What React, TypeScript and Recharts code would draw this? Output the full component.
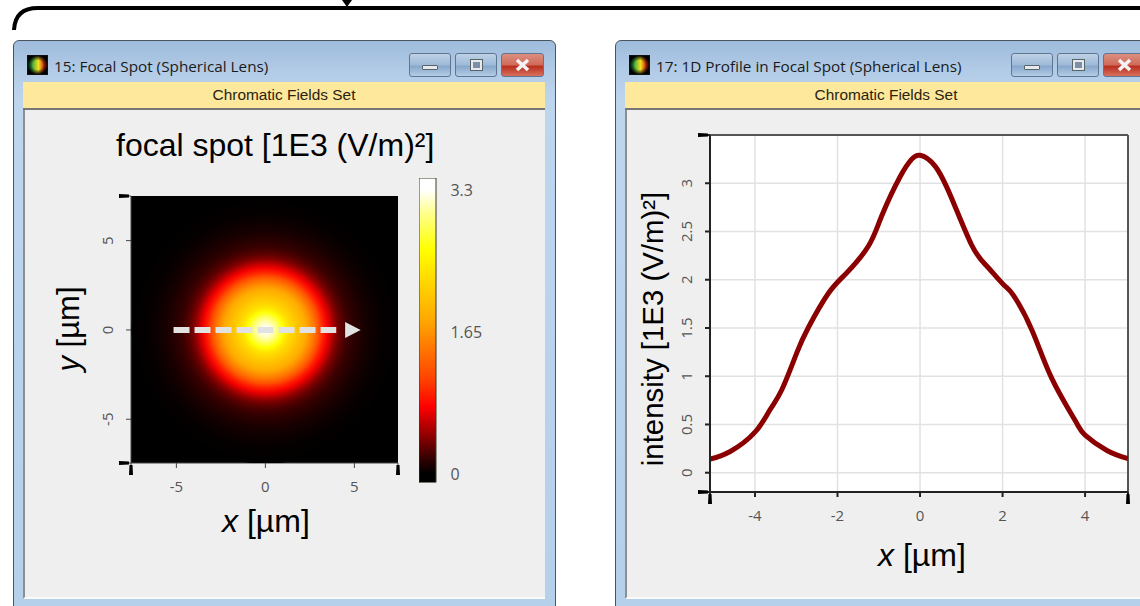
import { Bar, BarChart, CartesianGrid, Line, LineChart, ReferenceLine, Scatter, ScatterChart, XAxis, YAxis } from "recharts";

// 1D profile through the focal spot
const profileX = [-5.09, -4.6, -4, -3.64, -3.35, -2.99, -2.7, -2.22, -1.78, -1.25, -0.93, -0.48, -0.2, 0, 0.36, 0.76, 1.25, 1.6, 2.02, 2.26, 2.71, 3.19, 3.76, 4, 4.53, 5.04];
const profileY = [0.14, 0.22, 0.42, 0.65, 0.86, 1.24, 1.51, 1.86, 2.07, 2.35, 2.66, 3.07, 3.25, 3.29, 3.18, 2.85, 2.36, 2.15, 1.95, 1.84, 1.48, 0.98, 0.54, 0.39, 0.23, 0.146];

// radial intensity of the spot in the left window
const spotRadius = [0, 0.25, 0.5, 0.75, 1, 1.25, 1.5, 1.75, 2, 2.25, 2.5, 2.75, 3, 3.25, 3.5, 3.75, 4, 4.25, 4.5, 4.75, 5, 5.5, 6, 6.5, 7.5];
const spotValue = [3.29, 3.24, 3.09, 2.87, 2.62, 2.36, 2.2, 2.08, 1.95, 1.84, 1.65, 1.44, 1.2, 0.93, 0.74, 0.56, 0.4, 0.3, 0.23, 0.18, 0.15, 0.09, 0.05, 0.02, 0];

const heatValues = [0, 0.15, 0.43, 0.78, 1.09, 1.79, 2.61, 3.04, 3.3];
const heatColors = ["#000000", "#2a0000", "#8a0000", "#ff0000", "#ff4000", "#ffa800", "#ffff00", "#ffff90", "#ffffff"];

const spotXTicks = [-7.55, -5, 0, 5, 7.45];
const spotYTicks = [-7.45, -5, 0, 5, 7.5];
const barTicks = [0, 1.65, 3.3];
const barRange = [-0.1, 3.44];
const lineXTicks = [-5.09, -4, -2, 0, 2, 4, 5.04];
const lineYTicks = [-0.2, 0, 0.5, 1, 1.5, 2, 2.5, 3, 3.5];
const lineXGrid = [-4, -2, 0, 2, 4];
const lineYGrid = [0, 0.5, 1, 1.5, 2, 2.5, 3];

const spotPoint = [{ x: 0, y: 0 }];
const arrowHead = [{ x: 4.48, y: 0 }];
const arrowShaft = [{ x: -5.16, y: 0 }, { x: 3.98, y: 0 }];

const tickFont = "'Open Sans', sans-serif";
const bigFont = "'Liberation Sans', Arial, sans-serif";
const tickColor = "#555";
const spotPxPerUnit = 17.84;

const hex = (c: string) => [1, 3, 5].map((i) => parseInt(c.slice(i, i + 2), 16));

const heatColor = (v: number) => {
  let i = 0;
  while (i < heatValues.length - 2 && v > heatValues[i + 1]) i++;
  const t = Math.min(1, Math.max(0, (v - heatValues[i]) / (heatValues[i + 1] - heatValues[i])));
  const a = hex(heatColors[i]);
  const b = hex(heatColors[i + 1]);
  return `rgb(${a.map((n, k) => Math.round(n + (b[k] - n) * t)).join(",")})`;
};

const Blob = ({ d }: { d: string }) => <path d={d} fill="#000" />;

const makeXTick = (ends: number[]) => (props: any) => {
  const { x, y, payload } = props;
  if (ends.includes(payload.value)) {
    return <Blob d={`M${x - 1.5} ${y - 5} L${x + 1.5} ${y - 5} L${x + 2} ${y + 5} L${x - 2} ${y + 5} Z`} />;
  }
  return (
    <text x={x} y={y + 22} textAnchor="middle" fontFamily={tickFont} fontSize={15} fill={tickColor}>
      {payload.value}
    </text>
  );
};

const makeYTick = (ends: number[]) => (props: any) => {
  const { x, y, payload } = props;
  if (ends.includes(payload.value)) {
    return <Blob d={`M${x + 5} ${y - 1.5} L${x + 5} ${y + 1.5} L${x - 5} ${y + 2} L${x - 5} ${y - 2} Z`} />;
  }
  return (
    <text
      x={x - 17}
      y={y}
      transform={`rotate(-90 ${x - 17} ${y})`}
      textAnchor="middle"
      dominantBaseline="central"
      fontFamily={tickFont}
      fontSize={15}
      fill={tickColor}
    >
      {payload.value}
    </text>
  );
};

const SpotShape = (props: any) => (
  <circle cx={props.cx} cy={props.cy} r={7.5 * spotPxPerUnit} fill="url(#spotFill)" />
);

const ArrowShape = (props: any) => (
  <path
    d={`M${props.cx} ${props.cy - 8} L${props.cx + 15.5} ${props.cy} L${props.cx} ${props.cy + 8} Z`}
    fill="#e2e2e2"
  />
);

const NoShape = () => null;

const Frame = ({ left, width, title }: { left: number; width: number; title: string }) => {
  const buttons = [
    { l: 395, w: 42, bg: "linear-gradient(#bfd2e6, #9db9d8 50%, #86a7cb 55%, #b4cce4)", glyph: "min" },
    { l: 441, w: 42, bg: "linear-gradient(#bfd2e6, #9db9d8 50%, #86a7cb 55%, #b4cce4)", glyph: "max" },
    { l: 487, w: 43, bg: "linear-gradient(#dc8f80, #cf6a5a 50%, #b92d1e 55%, #d8705c)", glyph: "close" },
  ];
  return (
    <div style={{ position: "absolute", left, top: 40, width, height: 580, boxSizing: "border-box", border: "1px solid #4a5560", borderRadius: "6px 6px 0 0", background: "linear-gradient(#9ebcdc 0px, #b2cbe6 30px, #bed5ee 60px, #b5d0ea 100%)" }}>
      <div style={{ position: "absolute", left: 13, top: 14, width: 21, height: 20, background: "radial-gradient(ellipse at 50% 50%, transparent 0, transparent 35%, #000 75%), linear-gradient(90deg, #20a040 15%, #f0e020 55%, #e03010 85%)", border: "1px solid #111", boxSizing: "border-box" }} />
      <div style={{ position: "absolute", left: 40, top: 15, whiteSpace: "nowrap", fontFamily: tickFont, fontSize: 15.3, color: "#1a1a1a" }}>{title}</div>
      <div style={{ position: "absolute", left: 9, top: 41, width: 522, height: 28, background: "#fee89c", borderBottom: "2px solid #777", boxSizing: "border-box", textAlign: "center", fontFamily: bigFont, fontSize: 15.4, lineHeight: "26px", color: "#2a2410" }}>
        Chromatic Fields Set
      </div>
      <div style={{ position: "absolute", left: 9, width: 522, top: 69, height: 489, background: "#efefef", borderLeft: "2px solid #8a8f94", borderBottom: "2px solid #fafafa", boxSizing: "border-box" }} />
      {buttons.map((b) => (
        <div key={b.glyph} style={{ position: "absolute", left: b.l, top: 12, width: b.w, height: 24, boxSizing: "border-box", border: "1px solid #5f7690", borderRadius: 3, background: b.bg }}>
          {b.glyph === "min" && <div style={{ position: "absolute", left: 12, top: 11, width: 16, height: 5, background: "#e8e8ee", border: "1px solid #566", borderRadius: 1, boxSizing: "border-box" }} />}
          {b.glyph === "max" && <div style={{ position: "absolute", left: 15, top: 6, width: 11, height: 10, border: "2px solid #e8e8ee", outline: "1px solid #566", boxSizing: "border-box", background: "#7c8fa6" }} />}
          {b.glyph === "close" && <svg width={b.w - 2} height={22} style={{ position: "absolute", left: 0, top: 0 }}><path d="M15 6 L26 16 M26 6 L15 16" stroke="#f4f4f4" strokeWidth={3.5} /></svg>}
        </div>
      ))}
    </div>
  );
};

const bigText = { position: "absolute" as const, fontFamily: bigFont, fontSize: 32, color: "#000", whiteSpace: "nowrap" as const, lineHeight: "36px" };

const profileData = profileX.map((x, i) => ({ x, y: profileY[i] }));
const barData = [{ name: "scale", range: barRange }];

export default function App() {
  return (
    <div style={{ position: "absolute", left: 0, top: 0, width: 1140, height: 606, overflow: "hidden", background: "#fff" }}>
      <svg width={1140} height={40} style={{ position: "absolute", left: 0, top: 0 }}>
        <path d="M14 30 Q15 8 38 8 H1140" fill="none" stroke="#000" strokeWidth={4} />
        <path d="M342 0 L352 0 L347 7 Z" fill="#000" />
      </svg>

      <Frame left={13} width={543} title="15: Focal Spot (Spherical Lens)" />
      <Frame left={615} width={543} title="17: 1D Profile in Focal Spot (Spherical Lens)" />

      <div style={{ ...bigText, left: 116, top: 127 }}>focal spot [1E3 (V/m)²]</div>
      <div style={{ ...bigText, left: 222, top: 503 }}><i>x</i> [µm]</div>
      <div style={{ ...bigText, left: 69, top: 329, fontSize: 31, transform: "translate(-50%, -50%) rotate(-90deg)" }}><i>y</i> [µm]</div>
      <div style={{ ...bigText, left: 878, top: 537 }}><i>x</i> [µm]</div>
      <div style={{ ...bigText, left: 653, top: 329, fontSize: 29.4, transform: "translate(-50%, -50%) rotate(-90deg)" }}>intensity [1E3 (V/m)²]</div>

      <div style={{ position: "absolute", left: 22, top: 110 }}>
        <ScatterChart width={523} height={488} margin={{ left: 69, right: 147, top: 86, bottom: 105 }}>
          <defs>
            <radialGradient id="spotFill" cx="50%" cy="50%" r="50%">
              {spotRadius.map((r, i) => (
                <stop key={r} offset={`${(r / 7.5) * 100}%`} stopColor={heatColor(spotValue[i])} />
              ))}
            </radialGradient>
          </defs>
          <CartesianGrid horizontal={false} vertical={false} fill="#000" />
          <XAxis
            type="number"
            dataKey="x"
            domain={[spotXTicks[0], spotXTicks[4]]}
            ticks={spotXTicks}
            allowDataOverflow
            height={30}
            tickSize={5}
            stroke="#444"
            interval={0}
            tick={makeXTick([spotXTicks[0], spotXTicks[4]])}
          />
          <YAxis
            type="number"
            dataKey="y"
            domain={[spotYTicks[0], spotYTicks[4]]}
            ticks={spotYTicks}
            allowDataOverflow
            width={40}
            tickSize={5}
            stroke="#444"
            interval={0}
            tick={makeYTick([spotYTicks[0], spotYTicks[4]])}
          />
          <Scatter data={spotPoint} shape={SpotShape} isAnimationActive={false} />
          <Scatter
            data={arrowShaft}
            shape={NoShape}
            line={{ stroke: "#e2e2e2", strokeWidth: 6, strokeDasharray: "16 5" }}
            isAnimationActive={false}
          />
          <Scatter data={arrowHead} shape={ArrowShape} isAnimationActive={false} />
        </ScatterChart>
      </div>

      <div style={{ position: "absolute", left: 419, top: 170 }}>
        <BarChart width={100} height={320} data={barData} margin={{ left: 0, right: 47.6, top: 8, bottom: 7.5 }} barCategoryGap={0}>
          <defs>
            <linearGradient id="barFill" x1="0" y1="1" x2="0" y2="0">
              {heatValues.map((v, i) => (
                <stop key={v} offset={`${((v - barRange[0]) / (barRange[1] - barRange[0])) * 100}%`} stopColor={heatColors[i]} />
              ))}
            </linearGradient>
          </defs>
          <XAxis dataKey="name" hide />
          <YAxis
            orientation="right"
            type="number"
            domain={barRange}
            ticks={barTicks}
            allowDataOverflow
            width={35}
            axisLine={false}
            tickLine={false}
            tickMargin={8}
            interval={0}
            tick={{ fontFamily: tickFont, fontSize: 16, fill: tickColor }}
          />
          <Bar dataKey="range" fill="url(#barFill)" stroke="#3a3a20" strokeWidth={1} isAnimationActive={false} />
        </BarChart>
      </div>

      <div style={{ position: "absolute", left: 625, top: 110 }}>
        <LineChart width={515} height={490} data={profileData} margin={{ left: 45, right: 12, top: 25, bottom: 78 }}>
          <CartesianGrid
            fill="#fff"
            stroke="#e2e2e2"
            strokeWidth={1.5}
            horizontalValues={lineYGrid}
            verticalValues={lineXGrid}
          />
          <XAxis
            type="number"
            dataKey="x"
            domain={[lineXTicks[0], lineXTicks[6]]}
            ticks={lineXTicks}
            allowDataOverflow
            height={30}
            tickSize={5}
            stroke="#222"
            strokeWidth={2}
            interval={0}
            tick={makeXTick([lineXTicks[0], lineXTicks[6]])}
          />
          <YAxis
            type="number"
            domain={[lineYTicks[0], lineYTicks[8]]}
            ticks={lineYTicks}
            allowDataOverflow
            width={40}
            tickSize={5}
            stroke="#222"
            strokeWidth={2}
            interval={0}
            tick={makeYTick([lineYTicks[0], lineYTicks[8]])}
          />
          <ReferenceLine y={lineYTicks[8]} stroke="#555" strokeWidth={2} />
          <ReferenceLine x={lineXTicks[6]} stroke="#555" strokeWidth={2} />
          <Line type="natural" dataKey="y" stroke="#8b0000" strokeWidth={5} dot={false} isAnimationActive={false} />
        </LineChart>
      </div>
    </div>
  );
}
